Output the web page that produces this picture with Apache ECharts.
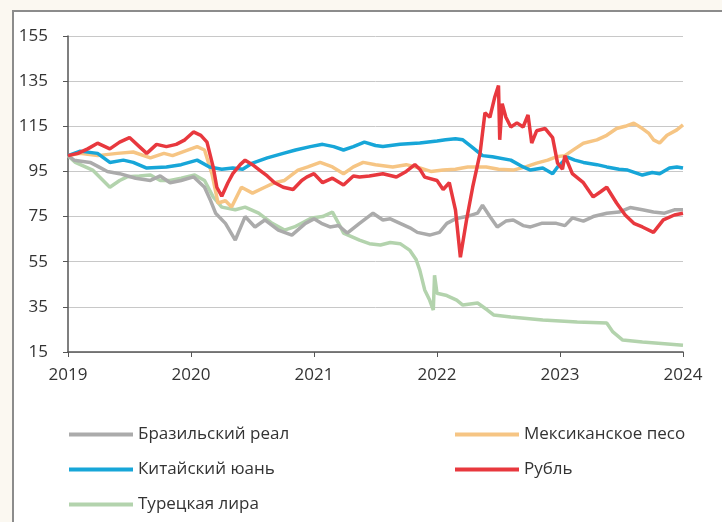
<!DOCTYPE html>
<html>
<head>
<meta charset="utf-8">
<script src="https://cdn.jsdelivr.net/npm/echarts@6/dist/echarts.min.js"></script>
<style>
  html, body { margin: 0; padding: 0; background: #fbf8f1; }
  #frame {
    position: absolute; left: 12px; top: 10px; width: 720px; height: 520px;
    border-left: 2px solid #8c8c8c; border-top: 2px solid #8c8c8c; background: #fff;
  }
  #chart { position: absolute; left: 0; top: 0; width: 722px; height: 522px; }
</style>
</head>
<body>
<div id="frame"></div>
<div id="chart"></div>
<script>
// x = decimal year, y = index (start of 2019 ~ 100)
const brl = [
  [2019.0, 102], [2019.05, 100], [2019.18, 99], [2019.25, 97], [2019.32, 95], [2019.42, 94],
  [2019.55, 92], [2019.67, 91], [2019.75, 93], [2019.83, 90], [2019.92, 91], [2020.02, 92.6],
  [2020.11, 88], [2020.16, 82], [2020.2, 76.5], [2020.28, 72], [2020.36, 64.6], [2020.44, 75],
  [2020.52, 70.4], [2020.6, 73.5], [2020.71, 69], [2020.82, 66.8], [2020.93, 72], [2021.0, 74],
  [2021.06, 72], [2021.13, 70.4], [2021.2, 71], [2021.27, 67.7], [2021.37, 72], [2021.48, 76.5],
  [2021.56, 73.5], [2021.62, 74], [2021.7, 72], [2021.78, 70], [2021.84, 68], [2021.94, 66.8],
  [2022.02, 68], [2022.08, 72], [2022.15, 74], [2022.24, 75], [2022.33, 76.5], [2022.37, 80],
  [2022.43, 75], [2022.49, 70.4], [2022.56, 73], [2022.62, 73.5], [2022.7, 71], [2022.76, 70.4],
  [2022.85, 72], [2022.97, 72], [2023.04, 71], [2023.1, 74.4], [2023.19, 73], [2023.27, 75],
  [2023.38, 76.5], [2023.48, 77], [2023.57, 79], [2023.67, 78], [2023.76, 77], [2023.85, 76.5],
  [2023.93, 78], [2024.0, 78]
];
const mxn = [
  [2019.0, 102], [2019.1, 103], [2019.24, 102], [2019.4, 103], [2019.53, 103.6], [2019.67, 101],
  [2019.78, 103], [2019.85, 102], [2019.95, 104], [2020.05, 106], [2020.11, 104.5], [2020.17, 94],
  [2020.22, 81], [2020.28, 82], [2020.33, 79.2], [2020.41, 88], [2020.5, 85.4], [2020.6, 88],
  [2020.68, 90], [2020.76, 91], [2020.87, 95.6], [2020.95, 97], [2021.05, 99], [2021.15, 97],
  [2021.24, 94], [2021.32, 97], [2021.4, 99], [2021.5, 98], [2021.64, 97], [2021.75, 98],
  [2021.86, 96.5], [2021.95, 95], [2022.05, 95.6], [2022.15, 96], [2022.25, 97], [2022.4, 97],
  [2022.5, 96], [2022.62, 95.6], [2022.72, 97], [2022.81, 98.7], [2022.9, 100], [2022.97, 101.5],
  [2023.04, 102], [2023.12, 105], [2023.19, 107.5], [2023.3, 109], [2023.38, 111], [2023.46, 114],
  [2023.53, 115], [2023.6, 116.4], [2023.67, 114], [2023.72, 112], [2023.76, 109], [2023.81, 107.6],
  [2023.87, 111], [2023.95, 113.4], [2024.0, 115.6]
];
const cny = [
  [2019.0, 102], [2019.1, 104], [2019.24, 103], [2019.34, 99], [2019.45, 100], [2019.53, 99],
  [2019.64, 96.5], [2019.8, 97], [2019.92, 98], [2020.05, 100], [2020.15, 97], [2020.25, 96],
  [2020.34, 96.5], [2020.42, 96], [2020.5, 98.7], [2020.62, 101], [2020.75, 103], [2020.85, 104.5],
  [2020.97, 106], [2021.07, 107], [2021.16, 106], [2021.24, 104.5], [2021.32, 106], [2021.41, 108],
  [2021.5, 106.5], [2021.56, 106], [2021.7, 107], [2021.86, 107.6], [2022.0, 108.5], [2022.07, 109],
  [2022.15, 109.5], [2022.21, 109], [2022.28, 106], [2022.37, 102], [2022.45, 101.5], [2022.6, 100],
  [2022.7, 97], [2022.76, 95.6], [2022.86, 96.5], [2022.94, 94], [2022.98, 97], [2023.06, 101.3],
  [2023.12, 100], [2023.19, 99], [2023.3, 98], [2023.38, 97], [2023.48, 96], [2023.55, 95.6],
  [2023.67, 93.4], [2023.75, 94.5], [2023.81, 94], [2023.89, 96.5], [2023.95, 97], [2024.0, 96.5]
];
const rub = [
  [2019.0, 102], [2019.08, 103], [2019.16, 105], [2019.24, 107.5], [2019.34, 105], [2019.42, 108],
  [2019.5, 110], [2019.58, 106], [2019.64, 103], [2019.72, 107], [2019.8, 106], [2019.88, 107],
  [2019.95, 109], [2020.02, 112.5], [2020.08, 111], [2020.13, 108], [2020.18, 97], [2020.21, 88],
  [2020.25, 84], [2020.3, 90], [2020.34, 94], [2020.4, 98], [2020.44, 100], [2020.5, 98],
  [2020.56, 95.5], [2020.62, 93], [2020.68, 90], [2020.75, 88], [2020.83, 87], [2020.9, 91],
  [2020.94, 92.5], [2021.0, 94], [2021.07, 90], [2021.15, 92], [2021.24, 89], [2021.32, 93],
  [2021.37, 92.5], [2021.45, 93], [2021.56, 94], [2021.67, 92.5], [2021.75, 95], [2021.82, 98],
  [2021.86, 96], [2021.9, 92.5], [2022.0, 91], [2022.05, 87], [2022.1, 90], [2022.15, 78],
  [2022.19, 57], [2022.24, 73.5], [2022.29, 88], [2022.35, 103], [2022.39, 121], [2022.43, 119],
  [2022.47, 128], [2022.5, 133], [2022.51, 109], [2022.53, 125], [2022.56, 119], [2022.6, 114.7],
  [2022.65, 116.5], [2022.7, 114.7], [2022.74, 120], [2022.77, 107.6], [2022.81, 113], [2022.88, 114],
  [2022.94, 110], [2022.98, 98.7], [2023.02, 96], [2023.04, 102], [2023.1, 94], [2023.19, 90],
  [2023.27, 83.7], [2023.33, 86], [2023.38, 88], [2023.46, 81], [2023.53, 75.7], [2023.6, 72],
  [2023.67, 70.4], [2023.76, 68], [2023.84, 73.5], [2023.93, 75.7], [2024.0, 76.5]
];
const tryl = [
  [2019.0, 102], [2019.06, 99], [2019.2, 95.6], [2019.34, 88], [2019.42, 91], [2019.48, 92.6],
  [2019.58, 93], [2019.67, 93.4], [2019.75, 91], [2019.83, 91], [2019.92, 92], [2020.03, 93.4],
  [2020.11, 91], [2020.18, 83.7], [2020.25, 79.2], [2020.36, 78], [2020.44, 79.2], [2020.55, 76.5],
  [2020.66, 72], [2020.76, 69], [2020.84, 70.4], [2020.98, 74.4], [2021.07, 75], [2021.15, 77],
  [2021.2, 72], [2021.24, 67.7], [2021.37, 64.6], [2021.45, 63], [2021.54, 62.4], [2021.62, 63.5],
  [2021.7, 63], [2021.78, 60], [2021.83, 56], [2021.86, 51.3], [2021.9, 42.5], [2021.94, 38],
  [2021.97, 33.6], [2021.98, 49], [2022.0, 41], [2022.08, 40], [2022.16, 38], [2022.21, 35.8],
  [2022.33, 36.7], [2022.41, 33.6], [2022.46, 31.4], [2022.6, 30.5], [2022.86, 29.2], [2023.14, 28.3],
  [2023.38, 27.8], [2023.43, 23.9], [2023.51, 20.3], [2023.67, 19.4], [2023.85, 18.7], [2024.0, 18]
];

const names = ["Бразильский реал", "Мексиканское песо", "Китайский юань", "Рубль", "Турецкая лира"];
const colors = ["#ababab", "#f6c584", "#17a6d8", "#e8383e", "#b3d3ad"];
const seriesData = [brl, mxn, cny, rub, tryl];
// drawing order: red on top
const drawOrder = [4, 0, 1, 2, 3];

const font = "Open Sans";
const chart = echarts.init(document.getElementById("chart"));

const legendPos = [
  { left: 64, top: 421 },
  { left: 450, top: 421 },
  { left: 64, top: 456 },
  { left: 450, top: 456 },
  { left: 64, top: 491 },
];

const option = {
  animation: false,
  backgroundColor: "transparent",
  grid: { left: 68, right: 39, top: 36, bottom: 170 },
  legend: names.map((n, i) => ({
    data: [n],
    left: legendPos[i].left,
    top: legendPos[i].top,
    icon: "rect",
    itemWidth: 64,
    itemHeight: 4,
    textStyle: { fontFamily: font, fontSize: 17, color: "#333" },
  })),
  xAxis: {
    type: "value",
    min: 2019,
    max: 2024,
    interval: 1,
    splitLine: { show: false },
    axisLine: { show: true, lineStyle: { color: "#555", width: 1.5 } },
    axisTick: { show: true, length: 5, lineStyle: { color: "#555" } },
    axisLabel: {
      fontFamily: font,
      fontSize: 17,
      color: "#333",
      margin: 15,
      formatter: (v) => String(v),
    },
  },
  yAxis: {
    type: "value",
    min: 15,
    max: 155,
    interval: 20,
    axisLine: { show: true, lineStyle: { color: "#555", width: 1.5 } },
    axisTick: { show: true, length: 5, lineStyle: { color: "#555" } },
    splitLine: { lineStyle: { color: "#c8c8c8", width: 1 } },
    axisLabel: { fontFamily: font, fontSize: 17, color: "#333", margin: 20 },
  },
  series: drawOrder.map((i) => ({
    name: names[i],
    type: "line",
    data: seriesData[i],
    symbol: "none",
    color: colors[i],
    lineStyle: { width: 3.5, color: colors[i] },
  })),
};

chart.setOption(option);
</script>
</body>
</html>
